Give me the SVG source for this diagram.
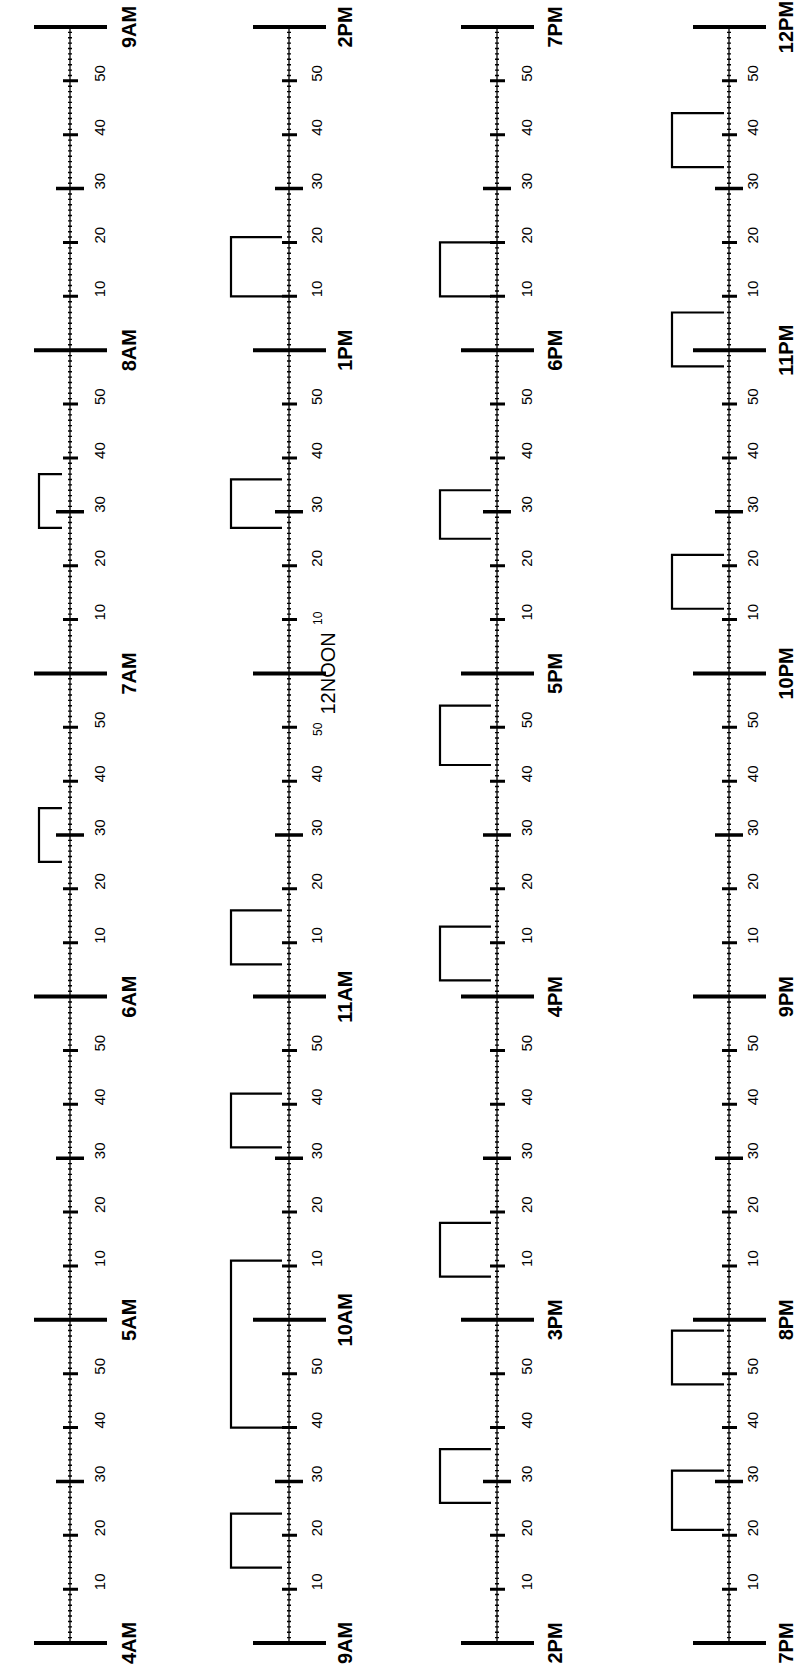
<svg xmlns="http://www.w3.org/2000/svg" xmlns:xlink="http://www.w3.org/1999/xlink" width="798" height="1671" viewBox="0 0 798 1671">
<style>
.ax{stroke:#000;stroke-width:1.3;fill:none}
.dots{stroke:#000;stroke-width:4;stroke-dasharray:1.4 3.9867;stroke-dashoffset:0.7;fill:none}
.t10{stroke:#000;stroke-width:3;fill:none}
.t30{stroke:#000;stroke-width:3.5;fill:none}
.th{stroke:#000;stroke-width:4;fill:none}
.br{stroke:#000;stroke-width:2.2;fill:none}
.ml{font-family:"Liberation Sans",Arial,sans-serif;font-size:15px;fill:#000}
.sl{font-family:"Liberation Sans",Arial,sans-serif;font-size:12px;fill:#000}
.hl{font-family:"Liberation Sans",Arial,sans-serif;font-size:20px;font-weight:bold;fill:#000;text-anchor:middle}
.nl{font-family:"Liberation Sans",Arial,sans-serif;font-size:20px;fill:#000;text-anchor:middle}
</style>
<defs>
<g id="scale">
<line class="dots" x1="0" y1="1643" x2="0" y2="27"/>
<line class="ax" x1="0" y1="1643" x2="0" y2="27"/>
<path class="t10" d="M-7,1589.13h15M-7,1535.27h15M-7,1427.53h15M-7,1373.67h15M-7,1265.93h15M-7,1212.07h15M-7,1104.33h15M-7,1050.47h15M-7,942.73h15M-7,888.87h15M-7,781.13h15M-7,727.27h15M-7,619.53h15M-7,565.67h15M-7,457.93h15M-7,404.07h15M-7,296.33h15M-7,242.47h15M-7,134.73h15M-7,80.87h15"/>
<path class="t30" d="M-14,1481.4h28M-14,1158.2h28M-14,835h28M-14,511.8h28M-14,188.6h28"/>
<path class="th" d="M-36,1643h73M-36,1319.8h73M-36,996.6h73M-36,673.4h73M-36,350.2h73M-36,27h73"/>
</g>
<g id="lab" class="ml">
<text transform="translate(0,-52.87) rotate(-90)">10</text>
<text transform="translate(0,-106.73) rotate(-90)">20</text>
<text transform="translate(0,-160.6) rotate(-90)">30</text>
<text transform="translate(0,-214.47) rotate(-90)">40</text>
<text transform="translate(0,-268.33) rotate(-90)">50</text>
</g>
</defs>
<rect width="798" height="1671" fill="#fff"/>

<g id="col1">
<use xlink:href="#scale" x="70"/>
<use xlink:href="#lab" x="105" y="1643"/>
<use xlink:href="#lab" x="105" y="1319.8"/>
<use xlink:href="#lab" x="105" y="996.6"/>
<use xlink:href="#lab" x="105" y="673.4"/>
<use xlink:href="#lab" x="105" y="350.2"/>
<g class="hl">
<text transform="translate(136,1643) rotate(-90)">4AM</text>
<text transform="translate(136,1319.8) rotate(-90)">5AM</text>
<text transform="translate(136,996.6) rotate(-90)">6AM</text>
<text transform="translate(136,673.4) rotate(-90)">7AM</text>
<text transform="translate(136,350.2) rotate(-90)">8AM</text>
<text transform="translate(136,27) rotate(-90)">9AM</text>
</g>
</g>

<g id="col2">
<use xlink:href="#scale" x="289"/>
<use xlink:href="#lab" x="322" y="1643"/>
<use xlink:href="#lab" x="322" y="1319.8"/>
<g class="ml">
<text transform="translate(322,943.73) rotate(-90)">10</text>
<text transform="translate(322,889.87) rotate(-90)">20</text>
<text transform="translate(322,836) rotate(-90)">30</text>
<text transform="translate(322,782.13) rotate(-90)">40</text>
<text transform="translate(322,566.67) rotate(-90)">20</text>
<text transform="translate(322,512.8) rotate(-90)">30</text>
<text transform="translate(322,458.93) rotate(-90)">40</text>
<text transform="translate(322,405.07) rotate(-90)">50</text>
</g>
<g class="sl">
<text transform="translate(322,736) rotate(-90)">50</text>
<text transform="translate(322,625) rotate(-90)">10</text>
</g>
<use xlink:href="#lab" x="322" y="350.2"/>
<g class="hl">
<text transform="translate(352,1643) rotate(-90)">9AM</text>
<text transform="translate(352,1319.8) rotate(-90)">10AM</text>
<text transform="translate(352,996.6) rotate(-90)">11AM</text>
<text transform="translate(352,350.2) rotate(-90)">1PM</text>
<text transform="translate(352,27) rotate(-90)">2PM</text>
</g>
<text class="nl" transform="translate(335,673.4) rotate(-90)">12NOON</text>
</g>

<g id="col3">
<use xlink:href="#scale" x="497"/>
<use xlink:href="#lab" x="532" y="1643"/>
<use xlink:href="#lab" x="532" y="1319.8"/>
<use xlink:href="#lab" x="532" y="996.6"/>
<use xlink:href="#lab" x="532" y="673.4"/>
<use xlink:href="#lab" x="532" y="350.2"/>
<g class="hl">
<text transform="translate(562,1643) rotate(-90)">2PM</text>
<text transform="translate(562,1319.8) rotate(-90)">3PM</text>
<text transform="translate(562,996.6) rotate(-90)">4PM</text>
<text transform="translate(562,673.4) rotate(-90)">5PM</text>
<text transform="translate(562,350.2) rotate(-90)">6PM</text>
<text transform="translate(562,27) rotate(-90)">7PM</text>
</g>
</g>

<g id="col4">
<use xlink:href="#scale" x="729"/>
<use xlink:href="#lab" x="758" y="1643"/>
<use xlink:href="#lab" x="758" y="1319.8"/>
<use xlink:href="#lab" x="758" y="996.6"/>
<use xlink:href="#lab" x="758" y="673.4"/>
<use xlink:href="#lab" x="758" y="350.2"/>
<g class="hl">
<text transform="translate(793,1643) rotate(-90)">7PM</text>
<text transform="translate(793,1319.8) rotate(-90)">8PM</text>
<text transform="translate(793,996.6) rotate(-90)">9PM</text>
<text transform="translate(793,673.4) rotate(-90)">10PM</text>
<text transform="translate(793,350.2) rotate(-90)">11PM</text>
<text transform="translate(793,27) rotate(-90)">12PM</text>
</g>
</g>

<g id="brackets">
<path class="br" d="M62,474.09H39V527.95H62"/>
<path class="br" d="M62,808.06H39V861.93H62"/>
<path class="br" d="M282,237.07H231V296.33H282"/>
<path class="br" d="M282,479.47H231V527.95H282"/>
<path class="br" d="M282,910.41H231V964.28H282"/>
<path class="br" d="M282,1093.56H231V1147.42H282"/>
<path class="br" d="M282,1260.54H231V1427.53H282"/>
<path class="br" d="M282,1513.72H231V1567.59H282"/>
<path class="br" d="M491,242.46H440V296.33H491"/>
<path class="br" d="M491,490.25H440V538.73H491"/>
<path class="br" d="M491,705.71H440V765H491"/>
<path class="br" d="M491,926.57H440V980.44H491"/>
<path class="br" d="M491,1222.84H440V1276.7H491"/>
<path class="br" d="M491,1449.08H440V1502.95H491"/>
<path class="br" d="M724,113.18H672V167.05H724"/>
<path class="br" d="M724,312.48H672V366.35H724"/>
<path class="br" d="M724,554.89H672V608.75H724"/>
<path class="br" d="M724,1330.57H672V1384.44H724"/>
<path class="br" d="M724,1470.63H672V1529.88H724"/>
</g>
</svg>
